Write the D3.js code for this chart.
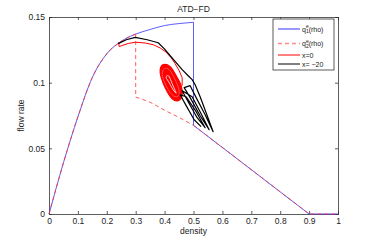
<!DOCTYPE html>
<html>
<head>
<meta charset="utf-8">
<script src="https://cdn.jsdelivr.net/npm/d3@7"></script>
<style>
  body { margin: 0; background: #fff; }
  text { font-family: "Liberation Sans", Arial, sans-serif; fill: #222; }
</style>
</head>
<body>
<div id="chart"></div>
<script>
// tick values
const xTicks = [0, 0.1, 0.2, 0.3, 0.4, 0.5, 0.6, 0.7, 0.8, 0.9, 1];
const xTickLabels = ["0", "0.1", "0.2", "0.3", "0.4", "0.5", "0.6", "0.7", "0.8", "0.9", "1"];
const yTicks = [0, 0.05, 0.1, 0.15];
const yTickLabels = ["0", "0.05", "0.1", "0.15"];

// free-flow branch (shared by q1 and q2)
const freeRho = [0, 0.05, 0.1, 0.15, 0.2, 0.25, 0.3, 0.35, 0.4, 0.45, 0.5];
const freeFlow = [0, 0.039, 0.074, 0.104, 0.122, 0.1315, 0.137, 0.1405, 0.1435, 0.145, 0.146];

// q1 congested branch
const q1CongRho = [0.5, 0.5, 0.9, 1];
const q1CongFlow = [0.146, 0.0675, 0, 0];

// q2: drop at 0.3, then lower branch
const q2DropRho = [0.3, 0.3];
const q2DropFlow = [0.137, 0.089];
const q2LowRho = [0.3, 0.35, 0.4, 0.45, 0.5];
const q2LowFlow = [0.089, 0.085, 0.079, 0.0735, 0.0675];
const q2TailRho = [0.5, 0.9, 1];
const q2TailFlow = [0.0675, 0, 0];

// trajectory x = 0 (red)
const redRho = [0.2406, 0.2430, 0.2499, 0.2741, 0.2983, 0.3329, 0.3605, 0.3847, 0.4054, 0.4227, 0.4366, 0.4504, 0.4608, 0.4608];
const redFlow = [0.1307, 0.1274, 0.1281, 0.1298, 0.1308, 0.1302, 0.1289, 0.1264, 0.1232, 0.1190, 0.1144, 0.1091, 0.1038, 0.0977];

// red limit cycle loops
const loop1Rho = [0.3951, 0.4193, 0.4400, 0.4573, 0.4608, 0.4469, 0.4262, 0.4054, 0.3882, 0.3847];
const loop1Flow = [0.1137, 0.1122, 0.1053, 0.0977, 0.0901, 0.0863, 0.0878, 0.0946, 0.1038, 0.1099];
const loop2Rho = [0.3985, 0.4158, 0.4331, 0.4469, 0.4504, 0.4366, 0.4193, 0.4020, 0.3916];
const loop2Flow = [0.1106, 0.1099, 0.1038, 0.0969, 0.0908, 0.0893, 0.0924, 0.0992, 0.1061];
const loop3Rho = [0.4089, 0.4158, 0.4262, 0.4366, 0.4400, 0.4297, 0.4158, 0.4054];
const loop3Flow = [0.1053, 0.1046, 0.0992, 0.0939, 0.0920, 0.0946, 0.1000, 0.1038];

// trajectory x = -20 (black)
const blackRho = [0.2395, 0.2672, 0.2983, 0.3398, 0.3778, 0.3985, 0.4193, 0.4400, 0.4608, 0.4815, 0.4953, 0.5057, 0.5230, 0.5437, 0.5679,
  0.5403, 0.5092, 0.4884, 0.4677, 0.4884, 0.5230, 0.5541, 0.5264, 0.4953, 0.4608, 0.4815, 0.5126, 0.5403, 0.5092, 0.4746, 0.4538, 0.4746, 0.5022, 0.5264];
const blackFlow = [0.1297, 0.1327, 0.1345, 0.1327, 0.1304, 0.1259, 0.1205, 0.1152, 0.1099, 0.1053, 0.1023, 0.0984, 0.0893, 0.0771, 0.0627,
  0.0756, 0.0886, 0.0977, 0.0962, 0.0886, 0.0748, 0.0642, 0.0764, 0.0893, 0.0939, 0.0855, 0.0733, 0.0657, 0.0779, 0.0893, 0.0908, 0.0825, 0.0718, 0.0665];

const W = 374, H = 242;
const margin = { top: 17, right: 36, bottom: 28, left: 49 };
const width = W - margin.left - margin.right;
const height = H - margin.top - margin.bottom;

const root = d3.select("#chart").append("svg")
  .attr("width", W).attr("height", H);
root.append("rect").attr("width", W).attr("height", H).attr("fill", "#fff");

const svg = root.append("g")
  .attr("transform", "translate(" + margin.left + "," + margin.top + ")");

const x = d3.scaleLinear().domain([0, 1]).range([0, width]);
const y = d3.scaleLinear().domain([0, 0.15]).range([height, 0]);

const zip = (a, b) => a.map((v, i) => [v, b[i]]);

// axes (ticks pointing inward, box on all sides)
const axBottom = d3.axisBottom(x).tickValues(xTicks).tickSize(-3).tickPadding(4)
  .tickFormat((d, i) => xTickLabels[i]);
const axTop = d3.axisTop(x).tickValues(xTicks).tickSize(-3).tickFormat("");
const axLeft = d3.axisLeft(y).tickValues(yTicks).tickSize(-3).tickPadding(4)
  .tickFormat((d, i) => yTickLabels[i]);
const axRight = d3.axisRight(y).tickValues(yTicks).tickSize(-3).tickFormat("");

function styleAxis(g) {
  g.select(".domain").attr("stroke", "#333").attr("stroke-width", 0.8);
  g.selectAll(".tick line").attr("stroke", "#333").attr("stroke-width", 0.8);
  g.selectAll(".tick text").attr("font-size", "8.5px").attr("fill", "#222")
    .attr("font-family", "Liberation Sans, Arial, sans-serif");
}
svg.append("g").attr("transform", "translate(0," + height + ")").call(axBottom).call(styleAxis);
svg.append("g").call(axTop).call(styleAxis);
svg.append("g").call(axLeft).call(styleAxis);
svg.append("g").attr("transform", "translate(" + width + ",0)").call(axRight).call(styleAxis);

const line = d3.line().x(d => x(d[0])).y(d => y(d[1]));
const smooth = d3.line().x(d => x(d[0])).y(d => y(d[1])).curve(d3.curveMonotoneX);
const closed = d3.line().x(d => x(d[0])).y(d => y(d[1])).curve(d3.curveCardinalClosed);

// q1 (blue)
svg.append("path").attr("d", smooth(zip(freeRho, freeFlow)))
  .attr("fill", "none").attr("stroke", "#3333ff").attr("stroke-width", 0.8);
svg.append("path").attr("d", line(zip(q1CongRho, q1CongFlow)))
  .attr("fill", "none").attr("stroke", "#3333ff").attr("stroke-width", 0.8);

// q2 (red dashed)
const freeUpTo03 = zip(freeRho, freeFlow).filter(d => d[0] <= 0.3);
const dashed = { "fill": "none", "stroke": "#ff3333", "stroke-width": 0.8, "stroke-dasharray": "4,3" };
function applyAttrs(sel, a) { Object.keys(a).forEach(k => sel.attr(k, a[k])); return sel; }
applyAttrs(svg.append("path").attr("d", smooth(freeUpTo03)), dashed);
applyAttrs(svg.append("path").attr("d", line(zip(q2DropRho, q2DropFlow))), dashed);
applyAttrs(svg.append("path").attr("d", smooth(zip(q2LowRho, q2LowFlow))), dashed);
applyAttrs(svg.append("path").attr("d", line(zip(q2TailRho, q2TailFlow))), dashed);

// red trajectory x = 0
svg.append("path").attr("d", line(zip(redRho, redFlow)))
  .attr("fill", "none").attr("stroke", "red").attr("stroke-width", 1);
// limit cycle: filled outer loop, inner loops drawn thin
svg.append("path").attr("d", closed(zip(loop1Rho, loop1Flow)))
  .attr("fill", "red").attr("stroke", "red").attr("stroke-width", 1.2);
svg.append("path").attr("d", closed(zip(loop2Rho, loop2Flow)))
  .attr("fill", "none").attr("stroke", "#ff9999").attr("stroke-width", 0.5);
svg.append("path").attr("d", closed(zip(loop3Rho, loop3Flow)))
  .attr("fill", "none").attr("stroke", "#fff").attr("stroke-width", 0.8);

// black trajectory x = -20
svg.append("path").attr("d", line(zip(blackRho, blackFlow)))
  .attr("fill", "none").attr("stroke", "#000").attr("stroke-width", 1.2)
  .attr("stroke-linejoin", "round");

// title and labels
root.append("text").attr("x", margin.left + width / 2).attr("y", 12)
  .attr("text-anchor", "middle").attr("font-size", "8.5px").text("ATD\u2212FD");
root.append("text").attr("x", margin.left + width / 2).attr("y", 234)
  .attr("text-anchor", "middle").attr("font-size", "8.5px").text("density");
root.append("text").attr("transform", "translate(24," + (margin.top + height / 2) + ") rotate(-90)")
  .attr("text-anchor", "middle").attr("font-size", "8.5px").text("flow rate");

// legend
const lg = root.append("g").attr("transform", "translate(273,19)");
lg.append("rect").attr("width", 61).attr("height", 51)
  .attr("fill", "#fff").attr("stroke", "#333").attr("stroke-width", 0.8);
const legendItems = [
  { y: 10, color: "#3333ff", dash: null, sub: "1", label: "q" },
  { y: 24.5, color: "#ff8888", dash: "4,3", sub: "2", label: "q" },
  { y: 36, color: "red", dash: null, label: "x=0" },
  { y: 45, color: "#000", dash: null, label: "x= \u221220" }
];
legendItems.forEach(it => {
  lg.append("line").attr("x1", 5).attr("x2", 27).attr("y1", it.y).attr("y2", it.y)
    .attr("stroke", it.color).attr("stroke-width", it.dash ? 1.4 : 1)
    .attr("stroke-dasharray", it.dash);
  const t = lg.append("text").attr("x", 29).attr("y", it.y + 2.5).attr("font-size", "7px");
  if (it.sub) {
    t.append("tspan").text("q");
    t.append("tspan").attr("font-size", "5px").attr("dy", -3.5).text("e");
    t.append("tspan").attr("font-size", "5px").attr("dx", -2.8).attr("dy", 5).text(it.sub);
    t.append("tspan").attr("dy", -1.5).text("(rho)");
  } else {
    t.text(it.label);
  }
});
</script>
</body>
</html>
